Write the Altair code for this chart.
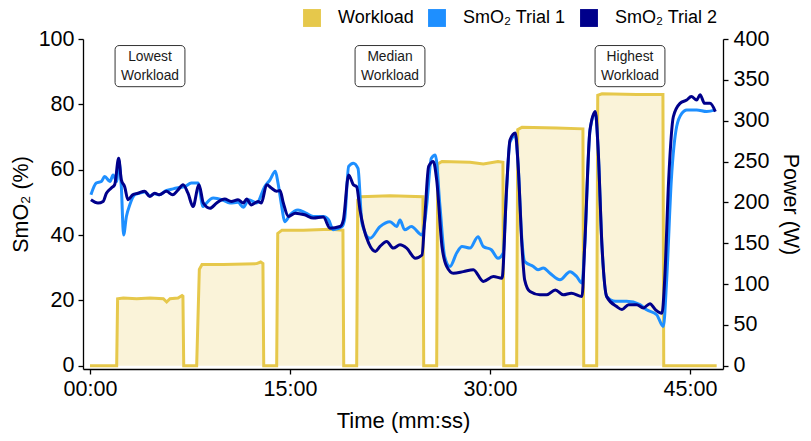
import altair as alt
import pandas as pd

FONT = "Liberation Sans"

# ---------------- data ----------------
WL_TIME = [0, 2.0, 2.07, 2.5, 3.5, 4.5, 5.5, 5.75, 6.0, 6.6, 6.9, 6.97, 7.03,
           8.0, 8.2, 8.4, 10.0, 12.5, 12.8, 12.97, 13.03,
           14.0, 14.08, 14.4, 16.0, 18.0, 18.97, 19.03,
           20.0, 20.08, 20.3, 22.5, 24.97, 25.03,
           26.0, 26.08, 26.4, 28.5, 29.5, 30.6, 30.97, 31.03,
           32.0, 32.08, 32.4, 35.0, 36.97, 37.03,
           38.0, 38.08, 38.4, 41.0, 42.97, 43.03, 47.0]
WL_WATTS = [0, 0, 82, 83, 82, 83, 82, 78, 82, 83, 86, 85, 0,
            0, 118, 124, 124, 125, 127, 125, 0,
            0, 162, 166, 166, 167, 166, 0,
            0, 203, 207, 208, 207, 0,
            0, 247, 250, 249, 247, 250, 249, 0,
            0, 289, 292, 291, 290, 0,
            0, 331, 333, 332, 332, 0, 0]

T1_TIME = [0.07, 0.47, 0.85, 1.1, 1.5, 1.73, 2.0, 2.15, 2.35, 2.52, 2.73, 2.98,
           3.35, 3.7, 4.1, 4.5, 4.85, 5.2, 5.7, 6.1, 6.5, 7.1, 7.6, 8.1, 8.48,
           8.6, 9.25, 9.9, 10.5, 11.1, 11.5, 11.9, 12.5, 13.1, 13.5, 13.9, 14.1,
           14.4, 14.6, 15.0, 15.6, 16.2, 16.75, 17.5, 17.9, 18.25, 18.9, 19.1,
           19.4, 19.75, 20.1, 20.4, 21.0, 21.75, 22.5, 23.0, 23.25, 23.6, 24.1,
           24.9, 25.25, 25.6, 25.9, 26.25, 26.6, 27.0, 27.5, 27.9, 28.5, 29.1,
           29.5, 30.1, 30.6, 31.0, 31.15, 31.5, 31.9, 32.1, 32.4, 32.6, 33.25,
           33.6, 34.0, 34.5, 35.25, 36.0, 36.5, 36.9, 37.1, 37.5, 37.9, 38.1,
           38.4, 38.75, 39.4, 40.25, 41.25, 41.75, 42.5, 43.0, 43.25, 43.6, 44.0,
           44.4, 44.75, 45.5, 46.25, 46.9]
T1_SMO2 = [52.3, 55.9, 56.4, 57.9, 56.4, 58.4, 56.4, 63.0, 54.8, 40.0, 45.7, 49.2,
           52.3, 52.8, 53.2, 52.0, 52.6, 52.3, 53.6, 54.0, 54.4, 54.8, 55.9, 55.9, 48.7,
           49.2, 51.3, 50.8, 49.8, 50.0, 48.5, 50.8, 49.8, 54.8, 56.9, 59.5, 55.9,
           48.2, 44.1, 46.2, 47.7, 46.7, 45.7, 45.7, 44.6, 41.6, 42.6, 45.0,
           61.0, 62.0, 60.4, 43.6, 39.0, 42.6, 44.1, 42.6, 44.6, 41.6, 42.6,
           40.0, 49.0, 63.5, 64.5, 48.7, 33.4, 30.4, 34.5, 36.5, 36.0, 39.5,
           36.5, 35.5, 32.9, 34.5, 46.0, 68.5, 70.5, 62.0, 38.0, 31.9, 30.4,
           29.4, 29.9, 28.3, 26.3, 28.8, 27.3, 25.3, 36.5, 72.0, 77.5, 67.0,
           36.5, 21.2, 19.7, 19.7, 18.7, 17.1, 15.6, 12.0, 26.3, 56.9, 73.2,
           77.3, 78.3, 78.3, 77.8, 78.3]

T2_TIME = [0.07, 0.6, 0.98, 1.23, 1.6, 1.85, 2.15, 2.35, 2.6, 2.85, 3.2, 3.6,
           4.1, 4.48, 4.85, 5.2, 5.73, 6.2, 6.6, 6.98, 7.35, 7.73, 8.1, 8.18,
           8.5, 9.0, 9.5, 10.1, 10.6, 11.1, 11.5, 11.75, 12.1, 12.6, 12.85,
           13.25, 13.6, 14.0, 14.25, 14.5, 14.88, 15.4, 16.1, 16.75, 17.5, 18.0,
           18.75, 19.0, 19.4, 19.75, 20.0, 20.25, 20.5, 20.9, 21.4, 21.75, 22.25,
           22.75, 23.25, 23.75, 24.4, 24.9, 25.1, 25.4, 25.75, 26.0, 26.4, 26.75,
           27.25, 28.0, 28.75, 29.5, 30.25, 30.9, 31.25, 31.5, 31.9, 32.1, 32.4,
           32.6, 33.0, 33.75, 34.25, 34.9, 35.5, 36.1, 36.9, 37.1, 37.5, 37.9,
           38.1, 38.4, 38.75, 39.5, 39.9, 40.4, 41.0, 41.5, 42.0, 42.4, 42.9,
           43.1, 43.4, 43.75, 44.25, 44.75, 45.1, 45.5, 45.75, 46.1, 46.5, 46.9]
T2_SMO2 = [50.8, 49.8, 50.3, 52.8, 54.4, 55.4, 63.5, 56.9, 54.8, 50.8, 52.3, 52.8,
           53.4, 51.8, 52.8, 52.3, 53.4, 52.3, 53.8, 55.4, 52.8, 48.7, 54.8, 55.4,
           49.8, 48.2, 49.8, 51.0, 50.3, 50.8, 49.8, 51.0, 49.2, 50.3, 49.8,
           55.4, 54.4, 53.4, 53.6, 49.8, 45.7, 46.7, 46.2, 45.2, 45.5, 42.1,
           42.6, 44.6, 58.4, 55.4, 54.8, 47.7, 42.6, 37.5, 35.0, 36.5, 38.0,
           36.0, 37.0, 36.0, 32.9, 33.9, 44.6, 61.0, 62.5, 56.9, 36.5, 30.4,
           28.3, 28.8, 29.4, 25.8, 27.3, 26.8, 54.8, 69.1, 71.2, 62.0, 36.5,
           26.3, 22.7, 21.7, 21.7, 23.2, 21.7, 22.2, 21.2, 36.5, 72.2, 77.8,
           67.1, 36.5, 21.2, 18.1, 17.2, 18.7, 18.7, 17.7, 19.0, 17.2, 16.1,
           26.3, 56.9, 76.2, 80.3, 81.3, 82.4, 81.3, 82.9, 80.3, 80.3, 77.8]

SERIES = ["Workload", "SmO\u2082 Trial 1", "SmO\u2082 Trial 2"]
COLORS = ["#E6C84B", "#1E8FFF", "#00008B"]
FILL_WL = "#FAF3D9"

ANNOT_TIME = [4.5, 22.5, 40.5]
ANNOT_TEXT = [["Lowest", "Workload"], ["Median", "Workload"], ["Highest", "Workload"]]

X_TICKS = [0, 15, 30, 45]
Y_TICKS = [0, 20, 40, 60, 80, 100]
P_TICKS = [0, 50, 100, 150, 200, 250, 300, 350, 400]

# ---------------- frames ----------------
wl = pd.DataFrame({"t": WL_TIME, "w": WL_WATTS})
t1 = pd.DataFrame({"t": T1_TIME, "v": T1_SMO2})
t2 = pd.DataFrame({"t": T2_TIME, "v": T2_SMO2})
ann = pd.DataFrame({"t": ANNOT_TIME, "label": ANNOT_TEXT})
leg = pd.DataFrame({"series": SERIES})

xscale = alt.Scale(domain=[-0.525, 47.475], nice=False, zero=False)
xaxis = alt.Axis(values=X_TICKS, title="Time (mm:ss)",
                 labelExpr="(datum.value < 10 ? '0' + datum.value : '' + datum.value) + ':00'",
                 labelPadding=4, titlePadding=11)


def X(field="t"):
    return alt.X(f"{field}:Q", scale=xscale, axis=xaxis)


yscale = alt.Scale(domain=[-1, 100], nice=False, zero=False)
yaxis = alt.Axis(values=Y_TICKS, title="SmO\u2082 (%)", orient="left",
                 labelPadding=4, titlePadding=6, titleFontSize=21.5)
pscale = alt.Scale(domain=[-4, 400], nice=False, zero=False)
paxis = alt.Axis(values=P_TICKS, title="Power (W)", orient="right",
                 labelPadding=5, titlePadding=10, titleFontSize=21.5)

# workload layers
wl_area = alt.Chart(wl).mark_area(color=FILL_WL, opacity=1).encode(
    x=X(), y=alt.Y("w:Q", scale=pscale, axis=paxis), y2=alt.datum(0))
wl_line = alt.Chart(wl).mark_line(color=COLORS[0], strokeWidth=3).encode(
    x=X(), y=alt.Y("w:Q", scale=pscale, axis=paxis))
wl_layer = alt.layer(wl_area, wl_line)

# SmO2 layers
l1 = alt.Chart(t1).mark_line(color=COLORS[1], strokeWidth=3, interpolate="monotone").encode(
    x=X(), y=alt.Y("v:Q", scale=yscale, axis=yaxis))
l2 = alt.Chart(t2).mark_line(color=COLORS[2], strokeWidth=3, interpolate="monotone").encode(
    x=X(), y=alt.Y("v:Q", scale=yscale, axis=yaxis))

boxes = alt.Chart(ann).transform_calculate(
    x1="datum.t - 2.62", x2="datum.t + 2.62"
).mark_rect(fill="white", stroke="#333333", strokeWidth=1, cornerRadius=4).encode(
    x=alt.X("x1:Q", scale=xscale, axis=xaxis), x2="x2:Q",
    y=alt.Y(datum=98.0, scale=yscale, axis=yaxis), y2=alt.datum(85.4))
texts = alt.Chart(ann).mark_text(font=FONT, fontSize=13.8, lineHeight=19.5,
                                 baseline="middle", align="center", color="#1a1a1a").encode(
    x=X(), y=alt.Y(datum=94.5, scale=yscale, axis=yaxis), text="label")

legend_layer = alt.Chart(leg).mark_square(size=0, filled=True, opacity=1).encode(
    x=alt.X(datum=0, scale=xscale, axis=xaxis),
    y=alt.Y(datum=0, scale=yscale, axis=yaxis),
    color=alt.Color("series:N",
                    scale=alt.Scale(domain=SERIES, range=COLORS),
                    legend=alt.Legend(title=None, orient="none", legendX=220, legendY=-30,
                                      direction="horizontal", symbolType="square",
                                      symbolSize=320, symbolStrokeWidth=0,
                                      labelFont=FONT, labelFontSize=18, labelColor="black",
                                      labelOffset=17, columnPadding=14, padding=0)))

sm_layer = alt.layer(l1, l2, boxes, texts, legend_layer)

chart = alt.layer(wl_layer, sm_layer).resolve_scale(y="independent").properties(
    width=640, height=330,
    autosize=alt.AutoSizeParams(type="none"),
    padding={"left": 75, "top": 31, "right": 80, "bottom": 64},
).configure_view(stroke=None).configure_axis(
    grid=False, domainColor="black", domainWidth=1.3, tickColor="black", tickWidth=1.3,
    tickSize=5, labelFont=FONT, titleFont=FONT, labelFontSize=21.5, titleFontSize=22,
    labelColor="black", titleColor="black", titleFontWeight="normal")

chart.save("out.html", embed_options={"renderer": "svg", "actions": False})
